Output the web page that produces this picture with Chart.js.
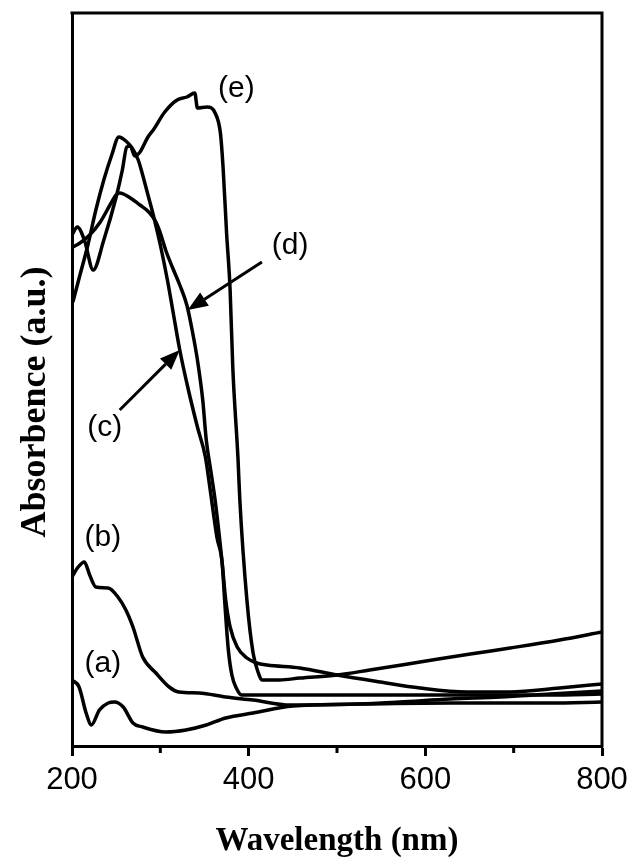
<!DOCTYPE html>
<html lang="en">
<head>
<meta charset="UTF-8">
<title>UV-vis absorbance spectra</title>
<script src="https://cdn.jsdelivr.net/npm/chart.js"></script>
<style>
  html, body { margin: 0; padding: 0; background: #fff; }
  #wrap { width: 634px; height: 867px; }
</style>
</head>
<body>
<div id="wrap"><canvas id="uvChart" width="634" height="867"></canvas></div>
<script>
// spectra (wavelength in nm, absorbance in a.u.)
const waveA = [200, 208, 216, 222, 231, 241, 248, 258, 269, 280, 306, 329, 352, 374, 405, 450, 526, 571, 628, 685, 741, 800];
const absA  = [0.33, 0.295, 0.165, 0.105, 0.18, 0.215, 0.22, 0.195, 0.115, 0.095, 0.07, 0.08, 0.105, 0.14, 0.165, 0.2, 0.21, 0.22, 0.235, 0.245, 0.26, 0.275];

const waveB = [200, 207, 214, 220, 227, 241, 252, 261, 269, 280, 295, 310, 321, 344, 374, 405, 447, 526, 628, 741, 800];
const absB  = [0.845, 0.895, 0.92, 0.855, 0.795, 0.79, 0.745, 0.68, 0.595, 0.445, 0.365, 0.295, 0.27, 0.265, 0.245, 0.23, 0.205, 0.21, 0.215, 0.215, 0.22];

const waveC = [201, 209, 218, 227, 236, 245, 253, 261, 268, 275, 280, 286, 292, 300, 308, 315, 322, 331, 342, 351, 356, 364, 370, 373, 377, 381, 386, 392, 424, 515, 628, 741, 800];
const absC  = [2.22, 2.355, 2.505, 2.68, 2.83, 2.955, 3.045, 3.025, 2.99, 2.93, 2.855, 2.755, 2.655, 2.505, 2.33, 2.155, 1.98, 1.795, 1.595, 1.445, 1.295, 1.045, 0.915, 0.715, 0.48, 0.355, 0.29, 0.255, 0.255, 0.255, 0.255, 0.255, 0.26];

const waveD = [201, 209, 220, 232, 243, 250, 254, 266, 277, 288, 295, 300, 306, 314, 322, 330, 336, 342, 348, 352, 357, 362, 370, 374, 379, 387, 398, 409, 421, 458, 500, 549, 594, 647, 696, 752, 800];
const absD  = [2.495, 2.515, 2.555, 2.62, 2.705, 2.755, 2.765, 2.74, 2.705, 2.665, 2.62, 2.565, 2.48, 2.39, 2.305, 2.205, 2.08, 1.93, 1.73, 1.53, 1.38, 1.23, 0.915, 0.73, 0.595, 0.495, 0.44, 0.415, 0.405, 0.39, 0.355, 0.32, 0.29, 0.27, 0.27, 0.29, 0.31];

const waveE = [200, 206, 214, 224, 236, 250, 257, 262, 266, 271, 277, 286, 292, 305, 319, 330, 339, 342, 353, 362, 368, 371, 375, 379, 382, 388, 390, 398, 405, 411, 415, 435, 458, 500, 537, 594, 651, 696, 752, 800];
const absE  = [2.555, 2.595, 2.53, 2.38, 2.53, 2.745, 2.88, 2.995, 3.0, 2.95, 2.97, 3.045, 3.08, 3.17, 3.23, 3.245, 3.265, 3.19, 3.195, 3.165, 3.065, 2.895, 2.565, 2.28, 1.895, 1.43, 1.23, 0.73, 0.465, 0.365, 0.33, 0.33, 0.34, 0.355, 0.38, 0.42, 0.46, 0.49, 0.53, 0.57];

// curve labels and arrows (data coordinates)
const labelText = ['(a)', '(b)', '(c)', '(d)', '(e)'];
const labelWave = [235, 235, 237, 447, 386];
const labelAbs  = [0.41, 1.04, 1.59, 2.5, 3.285];
const arrowFrom = [[254, 1.68], [415, 2.42]];
const arrowTo   = [[322, 1.98], [331, 2.18]];

const minorTicks = [300, 500, 700];

function pts(xs, ys) {
  return xs.map((x, i) => ({ x: x, y: ys[i] }));
}

function series(xs, ys) {
  return {
    data: pts(xs, ys),
    borderColor: '#000',
    borderWidth: 3.5,
    pointRadius: 0,
    fill: false,
    cubicInterpolationMode: 'monotone'
  };
}

const extras = {
  id: 'extras',
  afterDatasetsDraw(chart) {
    const { ctx, chartArea: a, scales: { x, y } } = chart;
    ctx.save();
    ctx.strokeStyle = '#000';
    ctx.fillStyle = '#000';
    ctx.lineWidth = 3;
    // top and right frame
    ctx.beginPath();
    ctx.moveTo(a.left - 1.5, a.top);
    ctx.lineTo(a.right, a.top);
    ctx.lineTo(a.right, a.bottom + 1.5);
    ctx.stroke();
    // minor ticks
    ctx.beginPath();
    minorTicks.forEach(v => {
      const px = x.getPixelForValue(v);
      ctx.moveTo(px, a.bottom);
      ctx.lineTo(px, a.bottom + 7);
    });
    ctx.stroke();
    // arrows
    arrowFrom.forEach((f, i) => {
      const x0 = x.getPixelForValue(f[0]), y0 = y.getPixelForValue(f[1]);
      const x1 = x.getPixelForValue(arrowTo[i][0]), y1 = y.getPixelForValue(arrowTo[i][1]);
      const ang = Math.atan2(y1 - y0, x1 - x0);
      const len = 20, half = 8;
      const bx = x1 - len * Math.cos(ang), by = y1 - len * Math.sin(ang);
      ctx.beginPath();
      ctx.moveTo(x0, y0);
      ctx.lineTo(bx, by);
      ctx.stroke();
      ctx.beginPath();
      ctx.moveTo(x1, y1);
      ctx.lineTo(bx + half * Math.sin(ang), by - half * Math.cos(ang));
      ctx.lineTo(bx - half * Math.sin(ang), by + half * Math.cos(ang));
      ctx.closePath();
      ctx.fill();
    });
    // labels
    ctx.font = '30px "Liberation Sans", Arial, sans-serif';
    ctx.textAlign = 'center';
    ctx.textBaseline = 'middle';
    labelText.forEach((t, i) => {
      ctx.fillText(t, x.getPixelForValue(labelWave[i]), y.getPixelForValue(labelAbs[i]));
    });
    ctx.restore();
  }
};

new Chart(document.getElementById('uvChart'), {
  type: 'line',
  data: {
    datasets: [
      series(waveA, absA),
      series(waveB, absB),
      series(waveC, absC),
      series(waveD, absD),
      series(waveE, absE)
    ]
  },
  options: {
    responsive: false,
    animation: false,
    layout: { padding: { top: 13, right: 32, left: 0, bottom: 0 } },
    plugins: { legend: { display: false }, tooltip: { enabled: false } },
    scales: {
      x: {
        type: 'linear',
        min: 200,
        max: 800,
        afterFit(scale) { scale.height = 121; },
        ticks: {
          stepSize: 200,
          color: '#000',
          padding: 6,
          font: { family: '"Liberation Sans", Arial, sans-serif', size: 31 }
        },
        grid: { drawOnChartArea: false, drawTicks: true, tickLength: 10, tickWidth: 3, tickColor: '#000' },
        border: { display: true, color: '#000', width: 3 },
        title: {
          display: true,
          text: 'Wavelength (nm)',
          color: '#000',
          padding: { top: 0, bottom: 9 },
          font: { family: '"Liberation Serif", "Times New Roman", serif', size: 33, weight: 'bold', lineHeight: 1 }
        }
      },
      y: {
        min: 0,
        max: 3.665,
        afterFit(scale) { scale.width = 72; },
        ticks: { display: false },
        grid: { display: false },
        border: { display: true, color: '#000', width: 3 },
        title: {
          display: true,
          // trailing spaces push the centred title down, as in the figure
          text: 'Absorbence (a.u.)     ',
          color: '#000',
          padding: { top: 18, bottom: 0 },
          font: { family: '"Liberation Serif", "Times New Roman", serif', size: 36, weight: 'bold', lineHeight: 1 }
        }
      }
    }
  },
  plugins: [extras]
});
</script>
</body>
</html>
